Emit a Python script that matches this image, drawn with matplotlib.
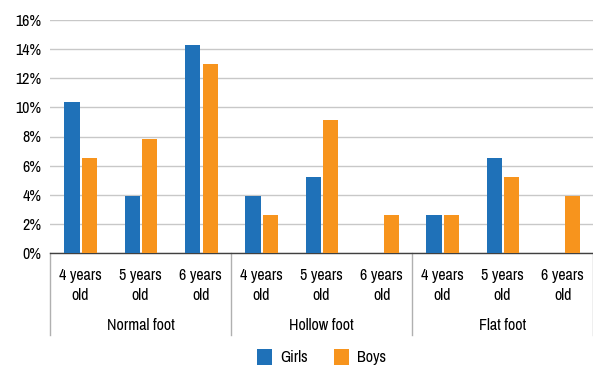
import numpy as np
import matplotlib
matplotlib.use("Agg")
import matplotlib.pyplot as plt
from matplotlib.lines import Line2D
import matplotlib.transforms as mtransforms
from matplotlib import font_manager

# use a narrow font if one is installed (the chart uses a condensed face)
names = sorted({f.name for f in font_manager.fontManager.ttflist})
narrow = [n for n in names if "Narrow" in n or "Condensed" in n]
family = narrow[0] if narrow else "DejaVu Sans"
plt.rcParams['font.family'] = [family, 'DejaVu Sans']

# Data (percent)
groups = ["Normal foot", "Hollow foot", "Flat foot"]
ages = ["4 years\nold", "5 years\nold", "6 years\nold"]
girls = [10.4, 3.9, 14.3, 3.9, 5.2, 0.0, 2.6, 6.5, 0.0]
boys = [6.5, 7.8, 13.0, 2.6, 9.1, 2.6, 2.6, 5.2, 3.9]

blue = "#1f71b8"
orange = "#f7941d"
fs = 11.5

fig = plt.figure(figsize=(5.93, 3.65), dpi=100)
ax = fig.add_axes([50/593, 112/365, 543/593, 233/365])

x = np.arange(len(girls))
w = 0.25
ax.bar(x - 0.135, girls, w, color=blue, label="Girls", zorder=3)
ax.bar(x + 0.155, boys, w, color=orange, label="Boys", zorder=3)

ax.set_xlim(-0.5, len(girls) - 0.5)
ax.set_ylim(0, 16)
ax.set_yticks(np.arange(0, 17, 2))
ax.set_yticklabels([f"{v}%" for v in range(0, 17, 2)], fontsize=fs)
ax.yaxis.grid(True, color="#c8c8c8", linewidth=1.0, zorder=0)
ax.tick_params(axis="y", length=0, pad=6)

ax.set_xticks(x)
ax.set_xticklabels(ages * len(groups), fontsize=fs, linespacing=1.4)
ax.tick_params(axis="x", length=0, pad=11)

for s in ["top", "right", "left"]:
    ax.spines[s].set_visible(False)
ax.spines["bottom"].set_color("#404040")
ax.spines["bottom"].set_linewidth(1.0)

# group separators and labels
trans = mtransforms.blended_transform_factory(ax.transData, ax.transAxes)
for i in range(len(groups) + 1):
    xs = i * 3 - 0.5
    ax.add_line(Line2D([xs, xs], [0, -82/233], transform=trans, color="#b0b0b0",
                       linewidth=1.0, clip_on=False))
for i, g in enumerate(groups):
    ax.text(i * 3 + 1, -73/233, g, transform=trans, ha="center", va="center", fontsize=fs)

ax.legend(loc="center", bbox_to_anchor=(0.5, -104/233), ncol=2, frameon=False,
          fontsize=fs, handlelength=0.95, handleheight=1.2, columnspacing=1.6,
          handletextpad=0.5)

fig.savefig("out.png", dpi=100)
